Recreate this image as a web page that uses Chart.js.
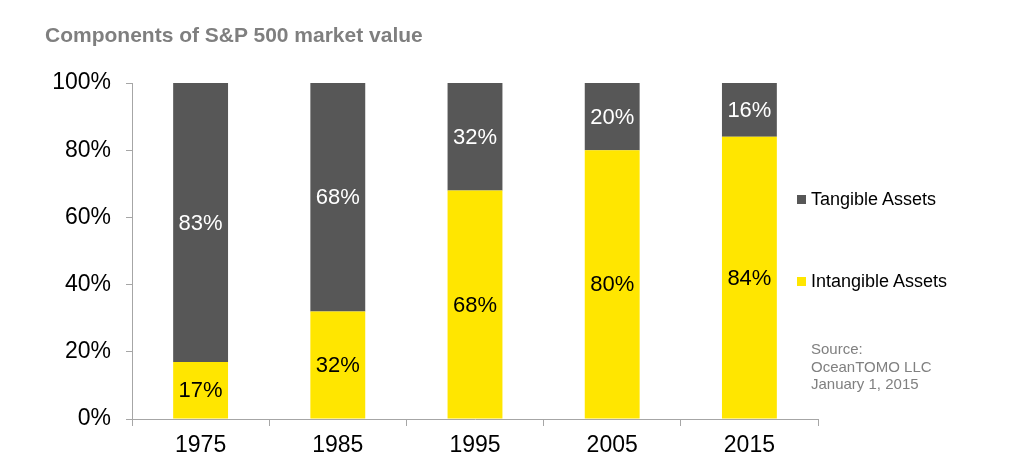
<!DOCTYPE html>
<html>
<head>
<meta charset="utf-8">
<script src="https://cdn.jsdelivr.net/npm/chart.js@4"></script>
<style>
  body { margin: 0; background: #fff; font-family: "Liberation Sans", Arial, sans-serif; }
  #wrap { position: relative; width: 1023px; height: 465px; }
  #chart { position: absolute; left: 0; top: 0; }
  .title { position: absolute; left: 45px; top: 23px; font-size: 21px; font-weight: bold; color: #7f7f7f; }
  .legend { position: absolute; left: 797px; font-size: 18px; color: #000; line-height: 20px; }
  .legend span { display: inline-block; width: 9px; height: 9px; margin-right: 5px; vertical-align: 1px; }
  .source { position: absolute; left: 811px; top: 340px; font-size: 15px; color: #808080; line-height: 17.5px; }
</style>
</head>
<body>
<div id="wrap">
  <canvas id="chart" width="1023" height="465"></canvas>
  <div class="title">Components of S&amp;P 500 market value</div>
  <div class="legend" style="top:189px"><span style="background:#575757"></span>Tangible Assets</div>
  <div class="legend" style="top:271px"><span style="background:#ffe600"></span>Intangible Assets</div>
  <div class="source">Source:<br>OceanTOMO LLC<br>January 1, 2015</div>
</div>
<script>
// Chart data
const years = ['1975', '1985', '1995', '2005', '2015'];
const intangible = [17, 32, 68, 80, 84];
const tangible = [83, 68, 32, 20, 16];
const yTicks = [0, 20, 40, 60, 80, 100];

// draws the % value in the middle of each segment
const segmentLabels = {
  id: 'segmentLabels',
  afterDatasetsDraw(chart) {
    const ctx = chart.ctx;
    ctx.save();
    ctx.font = '22px "Liberation Sans", Arial, sans-serif';
    ctx.textAlign = 'center';
    ctx.textBaseline = 'middle';
    chart.data.datasets.forEach((ds, i) => {
      const meta = chart.getDatasetMeta(i);
      meta.data.forEach((bar, j) => {
        const mid = (bar.y + bar.base) / 2 + 1;
        ctx.fillStyle = ds.labelColor;
        ctx.fillText(ds.data[j] + '%', bar.x, mid);
      });
    });
    ctx.restore();
  }
};

const ctx = document.getElementById('chart').getContext('2d');
new Chart(ctx, {
  type: 'bar',
  data: {
    labels: years,
    datasets: [
      { label: 'Intangible Assets', data: intangible, backgroundColor: '#ffe600', labelColor: '#000' },
      { label: 'Tangible Assets', data: tangible, backgroundColor: '#575757', labelColor: '#fff' }
    ]
  },
  options: {
    responsive: false,
    animation: false,
    layout: { padding: { left: 0, top: 83, right: 205, bottom: 0 } },
    datasets: { bar: { barPercentage: 0.4, categoryPercentage: 1 } },
    plugins: { legend: { display: false }, tooltip: { enabled: false } },
    scales: {
      x: {
        stacked: true,
        afterFit(scale) { scale.height = 46; },
        grid: { drawOnChartArea: false, offset: true, tickLength: 7, color: '#a6a6a6' },
        border: { color: '#a6a6a6' },
        ticks: { color: '#000', padding: 6, font: { size: 23, family: '"Liberation Sans", Arial' } }
      },
      y: {
        stacked: true,
        min: 0,
        max: 100,
        afterFit(scale) { scale.width = 132; },
        afterBuildTicks(scale) { scale.ticks = yTicks.map(v => ({ value: v })); },
        grid: { drawOnChartArea: false, tickLength: 6, color: '#a6a6a6' },
        border: { color: '#a6a6a6' },
        ticks: {
          color: '#000',
          padding: 15,
          font: { size: 23, family: '"Liberation Sans", Arial' },
          callback: v => v + '%'
        }
      }
    }
  },
  plugins: [segmentLabels]
});
</script>
</body>
</html>
